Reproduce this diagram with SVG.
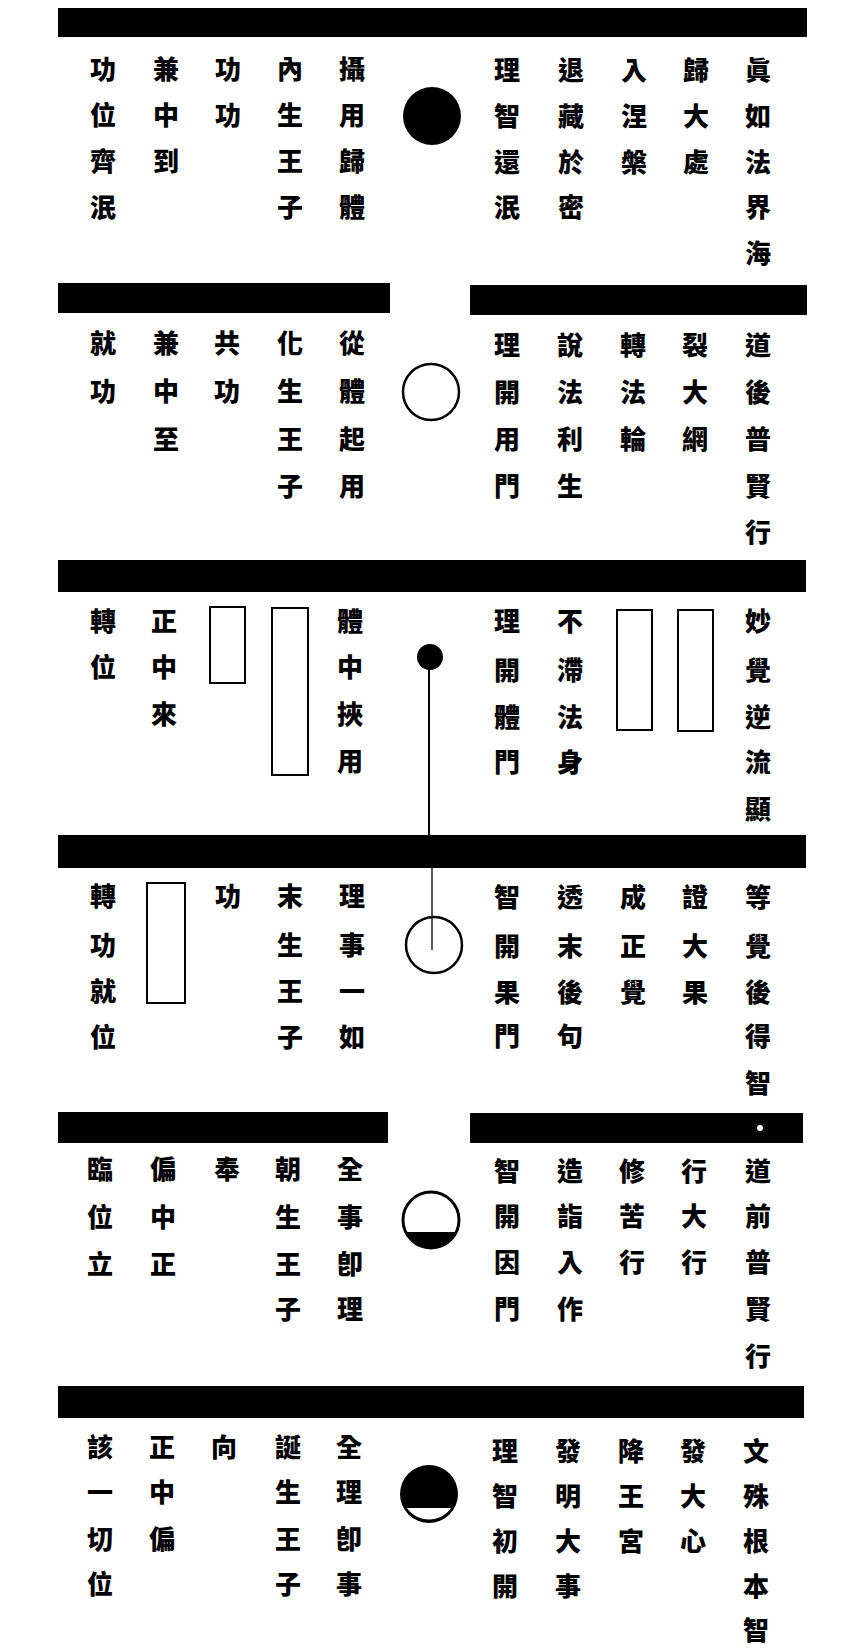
<svg xmlns="http://www.w3.org/2000/svg" width="848" height="1652" viewBox="0 0 848 1652">
<style>
.t{font-family:"Noto Sans CJK TC","Noto Sans CJK SC","Noto Sans CJK JP",sans-serif;font-size:26px;font-weight:900;fill:#000;text-anchor:middle}
.bar{fill:#000}
.box{fill:none;stroke:#000;stroke-width:2}
.ring{fill:#fff;stroke:#000;stroke-width:2.5}
.dot{fill:#000}
.conn{stroke:#000;fill:none}
</style>
<rect width="848" height="1652" fill="#fff"/>

<g id="sec1">
<rect class="bar" x="58" y="8" width="749" height="29"/>
<g id="sec1-left">
<text class="t" x="103 103 103 103" y="79 125 171 217">功位齊泯</text>
<text class="t" x="166 166 166" y="79 125 171">兼中到</text>
<text class="t" x="228 228" y="79 125">功功</text>
<text class="t" x="290 290 290 290" y="79 125 171 217">內生王子</text>
<text class="t" x="352 352 352 352" y="79 125 171 217">攝用歸體</text>
</g>
<g id="sec1-circle"><circle class="dot" cx="432" cy="116" r="29"/></g>
<g id="sec1-right">
<text class="t" x="507 507 507 507" y="80 126 172 217">理智還泯</text>
<text class="t" x="571 571 571 571" y="80 126 172 217">退藏於密</text>
<text class="t" x="634 634 634" y="80 126 172">入涅槃</text>
<text class="t" x="696 696 696" y="80 126 172">歸大處</text>
<text class="t" x="758 758 758 758 758" y="80 126 172 217 263">眞如法界海</text>
</g>
</g>

<g id="sec2">
<rect class="bar" x="58" y="283" width="332" height="30"/>
<rect class="bar" x="470" y="285" width="337" height="30"/>
<g id="sec2-left">
<text class="t" x="103 103" y="353 401">就功</text>
<text class="t" x="166 166 166" y="353 401 449">兼中至</text>
<text class="t" x="227 227" y="353 401">共功</text>
<text class="t" x="290 290 290 290" y="353 401 449 496">化生王子</text>
<text class="t" x="352 352 352 352" y="353 401 449 496">從體起用</text>
</g>
<g id="sec2-circle"><circle class="ring" cx="431" cy="392" r="28"/></g>
<g id="sec2-right">
<text class="t" x="507 507 507 507" y="355 402 449 496">理開用門</text>
<text class="t" x="570 570 570 570" y="355 402 449 496">說法利生</text>
<text class="t" x="633 633 633" y="355 402 449">轉法輪</text>
<text class="t" x="695 695 695" y="355 402 449">裂大網</text>
<text class="t" x="758 758 758 758 758" y="355 402 449 496 542">道後普賢行</text>
</g>
</g>

<g id="sec3">
<rect class="bar" x="58" y="560" width="748" height="32"/>
<g id="sec3-left">
<text class="t" x="103 103" y="631 677">轉位</text>
<text class="t" x="164 164 164" y="631 677 724">正中來</text>
<rect class="box" x="210" y="607" width="35" height="76"/>
<rect class="box" x="272" y="608" width="36" height="167"/>
<text class="t" x="350 350 350 350" y="631 677 724 771">體中挾用</text>
</g>
<g id="sec3-circle"><circle class="dot" cx="430" cy="657" r="13"/></g>
<g id="sec3-right">
<text class="t" x="507 507 507 507" y="631 680 727 772">理開體門</text>
<text class="t" x="570 570 570 570" y="631 680 727 772">不滯法身</text>
<rect class="box" x="617" y="610" width="35" height="120"/>
<rect class="box" x="678" y="610" width="35" height="121"/>
<text class="t" x="758 758 758 758 758" y="631 680 727 772 819">妙覺逆流顯</text>
</g>
</g>

<g id="sec4">
<rect class="bar" x="58" y="835" width="748" height="33"/>
<g id="sec4-left">
<text class="t" x="103 103 103 103" y="906 955 1001 1047">轉功就位</text>
<rect class="box" x="147" y="883" width="38" height="120"/>
<text class="t" x="228" y="906">功</text>
<text class="t" x="290 290 290 290" y="906 955 1001 1047">末生王子</text>
<text class="t" x="352 352 352 352" y="906 955 1001 1047">理事一如</text>
</g>
<g id="sec4-circle"><circle class="ring" cx="434" cy="945" r="28"/></g>
<g id="sec4-right">
<text class="t" x="507 507 507 507" y="907 956 1002 1046">智開果門</text>
<text class="t" x="570 570 570 570" y="907 956 1002 1046">透末後句</text>
<text class="t" x="633 633 633" y="907 956 1002">成正覺</text>
<text class="t" x="695 695 695" y="907 956 1002">證大果</text>
<text class="t" x="758 758 758 758 758" y="907 956 1002 1046 1093">等覺後得智</text>
</g>
</g>

<g id="sec5">
<rect class="bar" x="58" y="1112" width="330" height="31"/>
<rect class="bar" x="470" y="1113" width="333" height="30"/>
<circle cx="760" cy="1128" r="3" fill="#fff"/>
<g id="sec5-left">
<text class="t" x="100 100 100" y="1179 1227 1274">臨位立</text>
<text class="t" x="163 163 163" y="1179 1227 1274">偏中正</text>
<text class="t" x="227" y="1179">奉</text>
<text class="t" x="288 288 288 288" y="1179 1227 1274 1319">朝生王子</text>
<text class="t" x="350 350 350 350" y="1179 1227 1274 1319">全事卽理</text>
</g>
<g id="sec5-circle">
<circle cx="431" cy="1220" r="28" fill="#fff" stroke="#000" stroke-width="3"/>
<path d="M405.7,1232 A28,28 0 0 0 456.3,1232 Z" fill="#000"/>
</g>
<g id="sec5-right">
<text class="t" x="507 507 507 507" y="1181 1226 1272 1319">智開因門</text>
<text class="t" x="570 570 570 570" y="1181 1226 1272 1319">造詣入作</text>
<text class="t" x="632 632 632" y="1181 1226 1272">修苦行</text>
<text class="t" x="694 694 694" y="1181 1226 1272">行大行</text>
<text class="t" x="758 758 758 758 758" y="1181 1226 1272 1319 1366">道前普賢行</text>
</g>
</g>

<g id="sec6">
<rect class="bar" x="58" y="1386" width="746" height="32"/>
<g id="sec6-left">
<text class="t" x="100 100 100 100" y="1457 1502 1549 1594">該一切位</text>
<text class="t" x="162 162 162" y="1457 1502 1549">正中偏</text>
<text class="t" x="224" y="1457">向</text>
<text class="t" x="288 288 288 288" y="1457 1502 1549 1594">誕生王子</text>
<text class="t" x="349 349 349 349" y="1457 1502 1549 1594">全理卽事</text>
</g>
<g id="sec6-circle">
<circle class="dot" cx="429" cy="1494" r="29"/>
<path d="M406.9,1508 A27,27 0 0 0 451.1,1508 Z" fill="#fff"/>
</g>
<g id="sec6-right">
<text class="t" x="505 505 505 505" y="1461 1506 1551 1596">理智初開</text>
<text class="t" x="568 568 568 568" y="1461 1506 1551 1596">發明大事</text>
<text class="t" x="631 631 631" y="1461 1506 1551">降王宮</text>
<text class="t" x="693 693 693" y="1461 1506 1551">發大心</text>
<text class="t" x="756 756 756 756 756" y="1461 1506 1551 1596 1640">文殊根本智</text>
</g>
</g>

<g id="connectors">
<line class="conn" x1="429" y1="668" x2="429" y2="836" stroke-width="2"/>
<line class="conn" x1="432" y1="868" x2="432" y2="950" stroke-width="1.3"/>
</g>
</svg>
